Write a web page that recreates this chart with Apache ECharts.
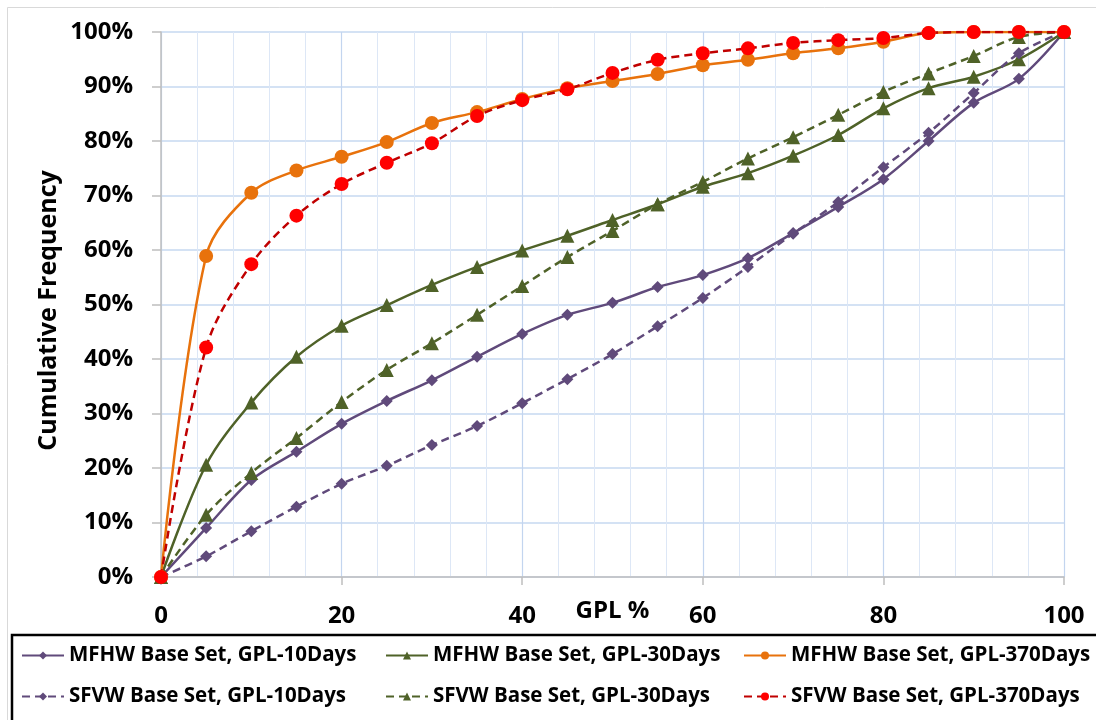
<!DOCTYPE html>
<html>
<head>
<meta charset="utf-8">
<script src="https://cdn.jsdelivr.net/npm/echarts@6/dist/echarts.min.js"></script>
<style>html,body{margin:0;padding:0;background:#fff;}#c{width:1096px;height:720px;}</style>
</head>
<body>
<div id="c"></div>
<script>
const gpl = [0,5,10,15,20,25,30,35,40,45,50,55,60,65,70,75,80,85,90,95,100];
const mfhw10 = [0,9.0,17.8,23.0,28.1,32.3,36.1,40.4,44.6,48.1,50.3,53.2,55.4,58.5,63.1,67.9,73.0,80.0,87.0,91.4,100];
const sfvw10 = [0,3.8,8.4,12.9,17.1,20.4,24.2,27.7,31.9,36.3,40.9,46.0,51.2,56.9,63.0,68.8,75.2,81.5,88.8,96.1,100];
const mfhw30 = [0,20.6,32.0,40.4,46.1,49.9,53.6,56.9,59.9,62.6,65.5,68.4,71.6,74.1,77.3,81.1,86.0,89.7,91.8,95.0,100];
const sfvw30 = [0,11.4,19.1,25.5,32.1,38.0,42.9,48.1,53.4,58.7,63.5,68.4,72.5,76.8,80.7,84.8,89.0,92.4,95.6,99.1,100];
const mfhw370 = [0,58.9,70.5,74.6,77.1,79.8,83.3,85.3,87.7,89.7,91.0,92.3,93.9,94.9,96.1,97.0,98.2,99.8,100,100,100];
const sfvw370 = [0,42.1,57.4,66.3,72.1,76.0,79.6,84.6,87.5,89.5,92.5,94.9,96.1,97.0,98.0,98.5,98.9,99.8,100,100,100];
const names = [
  'MFHW Base Set, GPL-10Days','MFHW Base Set, GPL-30Days','MFHW Base Set, GPL-370Days',
  'SFVW Base Set, GPL-10Days','SFVW Base Set, GPL-30Days','SFVW Base Set, GPL-370Days'
];

const FONT = 'Open Sans';
const pairs = ys => gpl.map((x,i)=>[x, ys[i]]);

function mk(name, ys, lineColor, markColor, dashed, symbol, size){
  return {
    name, type:'line', data: pairs(ys), smooth: 0.33,
    symbol, symbolSize: size, showSymbol: true,
    lineStyle:{color: lineColor, width: 2.5, type: dashed ? [8,5] : 'solid'},
    itemStyle:{color: markColor, borderWidth: 0},
    emphasis:{disabled:true}, animation:false
  };
}

const series = [
  mk(names[0], mfhw10, '#604A7B', '#604A7B', false, 'diamond', 12),
  mk(names[1], mfhw30, '#4F6228', '#4F6228', false, 'triangle', 14),
  mk(names[2], mfhw370, '#E8720C', '#E8720C', false, 'circle', 14),
  mk(names[3], sfvw10, '#604A7B', '#604A7B', true, 'diamond', 12),
  mk(names[4], sfvw30, '#4F6228', '#4F6228', true, 'triangle', 14),
  mk(names[5], sfvw370, '#C00000', '#FF0000', true, 'circle', 14)
];

const legPos = [[21,645],[385,645],[743,645],[21,686],[385,686],[743,686]];
const legends = [0,3,1,4,2,5].map(i => ({
  data:[names[i]], left: legPos[i][0], top: legPos[i][1],
  itemWidth: 42, itemHeight: 10, itemGap: 4, padding: 0,
  selectedMode: false,
  textStyle:{fontFamily: FONT, fontWeight:'bold', fontSize: 20.5, color:'#000'}
}));

const chart = echarts.init(document.getElementById('c'), null, {renderer:'canvas'});
chart.setOption({
  backgroundColor:'#fff',
  animation:false,
  grid:{left:161, right:32, top:32, bottom:143},
  xAxis:{
    type:'value', min:0, max:100, interval:20,
    name:'GPL %', nameLocation:'middle', nameGap:22, nameMoveOverlap:false,
    nameTextStyle:{fontFamily:FONT, fontWeight:'bold', fontSize:24, color:'#000', verticalAlign:'top'},
    axisLine:{show:true, lineStyle:{color:'#BFBFBF', width:1.5}},
    axisTick:{show:true, length:8, lineStyle:{color:'#BFBFBF', width:1.5}},
    axisLabel:{margin:27, fontFamily:FONT, fontWeight:'bold', fontSize:24, color:'#000'},
    splitLine:{show:true, lineStyle:{color:'#C3D5EF', width:1.2}},
    minorTick:{show:false, splitNumber:5},
    minorSplitLine:{show:true, lineStyle:{color:'#DDE7F6', width:1}}
  },
  yAxis:{
    type:'value', min:0, max:100, interval:10,
    name:'Cumulative Frequency', nameLocation:'middle', nameGap:100, nameMoveOverlap:false,
    nameTextStyle:{fontFamily:FONT, fontWeight:'bold', fontSize:25, color:'#000', padding:[0,12,0,0]},
    axisLine:{show:true, lineStyle:{color:'#BFBFBF', width:1.5}},
    axisTick:{show:true, length:9, lineStyle:{color:'#BFBFBF', width:1.5}},
    axisLabel:{margin:28, formatter:'{value}%', fontFamily:FONT, fontWeight:'bold', fontSize:24, color:'#000'},
    splitLine:{show:true, lineStyle:{color:'#C6D9F1', width:1.5}}
  },
  legend: legends,
  graphic:[
    {type:'rect', silent:true, z:-10, shape:{x:7.5, y:7.5, width:1200, height:1000}, style:{fill:'none', stroke:'#D9D9D9', lineWidth:1}},
    {type:'rect', silent:true, z:-5, shape:{x:12, y:635, width:1200, height:200}, style:{fill:'none', stroke:'#000', lineWidth:2.5}}
  ],
  series
});
</script>
</body>
</html>
